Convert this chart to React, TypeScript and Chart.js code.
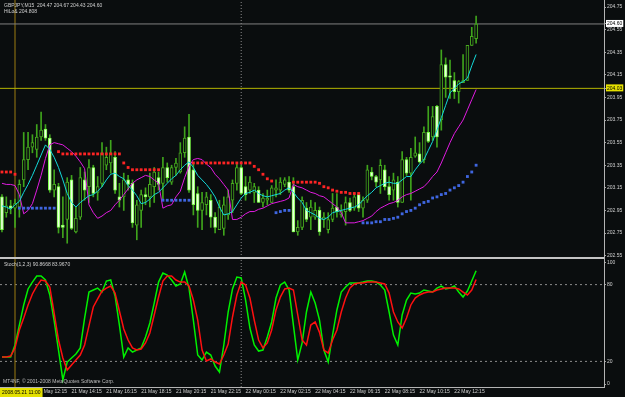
import React, { useEffect, useRef } from 'react';
import { Chart, registerables } from 'chart.js';
Chart.register(...registerables);

const BG = '#0a0d0e';
const TXT = '#d0d0d0';
const AXIS = '#b4b4b4';
const FONT = '"Liberation Sans", Arial, sans-serif';

// ---- GBPJPY M15 candles, bar 0 = 21 May 10:15 ----
const opens = [203.07,202.93,202.99,202.97,202.98,203.22,203.40,203.51,203.49,203.60,
203.67,203.59,203.13,203.16,202.82,202.87,203.22,202.76,202.89,203.22,
203.16,203.33,203.11,203.19,203.35,203.37,203.42,203.07,203.07,203.22,
203.19,202.82,202.95,203.09,203.07,203.16,203.24,203.19,203.33,203.20,
203.33,203.29,203.46,203.60,203.31,203.10,202.95,203.00,203.04,202.89,
202.78,202.79,202.91,203.04,203.19,203.33,203.16,203.13,203.11,203.13,
203.02,203.04,203.02,203.13,203.13,203.18,203.20,203.16,202.76,202.80,
202.97,202.89,202.89,202.95,202.87,202.78,202.87,202.98,202.91,202.94,
203.02,202.97,203.09,202.97,203.04,203.29,203.25,203.22,203.31,203.16,
203.13,203.20,203.02,203.40,203.28,203.43,203.45,203.40,203.64,203.60,
203.87,203.75,204.24,204.14,204.10,204.00,204.08,204.10,204.41,204.47];
const highs = [203.09,203.07,203.04,203.05,203.22,203.64,203.64,203.62,203.71,203.82,
203.71,203.62,203.31,203.19,203.07,203.24,203.26,202.98,203.33,203.29,
203.40,203.35,203.25,203.55,203.51,203.57,203.47,203.19,203.28,203.26,
203.22,203.04,203.13,203.15,203.28,203.33,203.29,203.42,203.37,203.35,
203.41,203.55,203.69,203.80,203.37,203.16,203.11,203.11,203.09,202.93,
203.04,203.07,203.13,203.22,203.37,203.35,203.25,203.25,203.19,203.16,
203.10,203.13,203.17,203.22,203.24,203.24,203.25,203.24,202.86,203.07,
203.02,203.04,203.02,202.98,202.93,202.93,203.10,203.10,203.00,203.07,
203.06,203.10,203.11,203.07,203.35,203.33,203.26,203.40,203.35,203.25,
203.28,203.25,203.47,203.42,203.50,203.60,203.55,203.69,203.87,203.87,
203.88,204.37,204.30,204.28,204.17,204.10,204.33,204.41,204.57,204.67];
const lows = [202.76,202.89,202.92,202.80,202.89,203.16,203.31,203.46,203.42,203.57,
203.57,203.11,203.07,202.75,202.71,202.66,202.78,202.75,202.87,203.04,
203.02,203.07,203.04,203.16,203.31,203.28,203.10,202.98,202.95,203.13,
202.80,202.69,202.80,203.00,202.98,203.02,203.13,203.04,203.20,203.18,
203.26,203.28,203.42,203.11,202.91,202.80,202.78,202.91,202.80,202.75,
202.78,202.73,202.87,202.93,203.13,203.09,203.04,203.10,203.02,203.02,
202.98,203.00,203.02,203.07,203.09,203.16,203.11,202.76,202.73,202.78,
202.85,202.78,202.87,202.73,202.80,202.75,202.85,202.89,202.89,202.82,
202.94,202.95,202.94,202.89,203.02,203.22,203.16,203.10,203.13,203.04,
203.04,202.98,203.02,203.26,203.04,203.42,203.37,203.37,203.55,203.57,
203.51,203.66,203.95,203.94,203.94,203.90,204.08,204.10,204.41,204.43];
const closes = [202.78,202.99,202.97,203.01,203.18,203.40,203.51,203.55,203.60,203.66,
203.59,203.13,203.18,202.80,202.80,203.20,202.79,202.88,203.24,203.13,
203.33,203.10,203.16,203.46,203.42,203.46,203.13,203.04,203.22,203.18,
202.84,203.00,203.09,203.07,203.18,203.29,203.18,203.33,203.24,203.33,
203.37,203.46,203.59,203.13,203.00,202.95,203.02,203.07,202.89,202.80,
202.98,203.00,203.07,203.19,203.33,203.10,203.09,203.20,203.16,203.02,
203.06,203.06,203.15,203.15,203.20,203.22,203.13,202.76,202.80,203.04,
202.87,202.98,202.95,202.76,202.89,202.87,202.97,202.94,202.94,203.02,
202.95,203.07,202.97,203.04,203.31,203.25,203.20,203.35,203.16,203.09,
203.22,203.02,203.40,203.28,203.42,203.46,203.38,203.64,203.56,203.78,
203.60,204.24,204.13,204.13,204.00,204.09,204.10,204.41,204.49,204.60];

// ---- indicators ----
const fastMA = [202.99,202.98,202.96,203.00,203.03,203.11,203.18,203.26,203.35,203.44,
203.53,203.49,203.42,203.33,203.22,203.10,203.02,202.98,203.02,203.05,
203.08,203.09,203.12,203.16,203.22,203.27,203.28,203.25,203.23,203.17,
203.13,203.08,203.01,203.02,203.05,203.09,203.11,203.15,203.19,203.23,
203.26,203.31,203.35,203.38,203.33,203.26,203.22,203.18,203.13,203.07,
202.98,202.91,202.92,202.94,203.00,203.06,203.10,203.11,203.13,203.10,
203.08,203.07,203.08,203.09,203.10,203.13,203.15,203.11,203.06,203.02,
202.95,202.93,202.91,202.88,202.87,202.89,202.93,202.94,202.95,202.96,
202.97,202.98,203.00,203.04,203.08,203.11,203.15,203.17,203.19,203.20,
203.19,203.19,203.22,203.25,203.25,203.31,203.36,203.40,203.48,203.56,
203.66,203.77,203.88,203.99,204.03,204.07,204.09,204.12,204.23,204.33];
const slowMA = [203.19,203.18,203.18,203.17,203.09,202.92,202.95,203.01,203.13,203.26,
203.41,203.53,203.55,203.54,203.53,203.50,203.47,203.43,203.38,203.32,
203.00,202.93,202.88,202.90,202.93,202.95,203.00,203.04,203.09,203.14,
203.19,203.22,203.24,203.26,203.25,203.22,203.19,202.97,202.99,203.00,
203.07,203.12,203.24,203.34,203.40,203.41,203.40,203.36,203.33,203.27,
203.23,203.18,203.13,202.87,202.87,202.89,202.92,202.94,202.94,202.96,
202.97,202.99,203.01,203.02,203.03,203.04,203.06,203.18,203.16,203.15,
203.13,203.11,203.10,203.08,203.07,203.04,203.01,202.98,202.93,202.84,
202.84,202.84,202.85,202.86,202.88,202.90,202.94,202.97,202.99,203.01,
203.02,203.04,203.07,203.09,203.10,203.12,203.14,203.16,203.20,203.25,
203.29,203.37,203.46,203.55,203.63,203.69,203.75,203.84,203.93,204.02];
const hiloUpper = [203.29,203.29,203.29,203.27,null,null,null,null,null,null,
null,null,null,203.47,203.45,203.45,203.45,203.45,203.45,203.45,
203.45,203.45,203.45,203.45,203.45,203.45,203.45,203.45,203.37,203.33,
203.31,203.31,203.31,203.31,203.31,203.31,203.31,null,null,null,
null,null,null,null,203.37,203.37,203.37,203.37,203.37,203.37,
203.37,203.37,203.37,203.37,203.37,203.37,203.37,203.37,203.34,203.31,
203.27,203.23,203.21,null,null,null,null,203.20,203.20,203.20,
203.20,203.20,203.20,203.19,203.16,203.15,203.13,203.12,203.11,203.11,
203.10,203.10,203.10,null,null,null,null,null,null,null,
null,null,null,null,null,null,null,null,null,null,
null,null,null,null,null,null,null,null,null,null];
const hiloLower = [null,null,null,null,202.97,202.97,202.97,202.97,202.97,202.97,
202.97,202.97,202.97,null,null,null,null,null,null,null,
null,null,null,null,null,null,null,null,null,null,
null,null,null,null,null,null,null,203.04,203.04,203.04,
203.04,203.04,203.04,203.04,null,null,null,null,null,null,
null,null,null,null,null,null,null,null,null,null,
null,null,null,202.93,202.94,202.95,202.95,null,null,null,
null,null,null,null,null,null,null,null,null,null,
null,null,null,202.84,202.84,202.84,202.85,202.85,202.87,202.87,
202.88,202.89,202.92,202.94,202.95,202.97,203.00,203.02,203.03,203.06,
203.07,203.09,203.10,203.13,203.15,203.17,203.20,203.25,203.29,203.35];
const stochK = [23.4,23.4,23.4,32.8,48.4,64.1,76.6,82.0,86.7,86.7,
83.6,71.9,51.6,28.9,5.5,19.5,22.7,25.8,30.5,53.9,
74.2,75.8,77.3,74.2,82.8,83.6,71.1,48.4,23.4,30.5,
27.3,28.9,30.5,39.1,50.0,65.6,82.0,89.1,87.5,83.6,
78.9,80.5,89.8,77.3,52.3,25.0,21.1,27.3,25.0,16.4,
11.7,32.8,58.6,76.6,85.9,85.2,68.0,46.1,32.8,28.1,
28.9,39.1,50.8,69.5,79.7,82.0,75.8,48.4,21.1,34.4,
58.6,74.2,65.6,52.3,28.9,19.5,40.6,60.2,74.2,78.1,
81.3,81.3,81.3,82.0,82.8,82.8,82.0,79.7,75.8,58.6,
40.6,32.8,56.3,68.0,73.4,72.7,73.4,75.8,75.0,74.2,
77.3,78.9,76.6,77.3,78.9,74.2,70.3,75.0,82.8,90.87];
const stochD = [23.4,23.4,24.2,30.5,44.5,53.9,64.1,72.7,78.9,83.6,
82.8,78.1,57.8,36.7,22.7,13.3,17.2,21.1,25.0,32.8,
47.7,62.5,68.8,75.0,77.3,78.9,73.4,59.4,45.3,36.7,
30.5,28.9,29.7,34.4,42.2,56.3,70.3,82.8,86.7,86.7,
83.6,82.0,82.0,78.9,68.0,52.3,28.9,20.3,21.9,19.5,
18.0,25.0,33.6,54.7,71.9,82.0,79.7,69.5,52.3,36.7,
30.5,34.4,44.5,60.2,70.3,76.6,77.3,75.8,56.3,36.7,
32.8,48.4,50.8,42.7,28.9,26.6,36.7,44.5,58.6,69.5,
77.3,80.5,81.3,81.3,82.0,82.0,82.0,81.3,80.5,73.4,
58.6,50.8,46.1,53.9,64.1,69.5,71.9,73.4,74.2,74.2,
75.8,76.6,77.3,77.3,77.3,76.6,74.2,71.9,75.8,83.97];

// ---- axes / labels ----
const timeTickBars = [8,16,24,32,40,48,56,64,72,80,88,96,104];
const timeTickLabels = ['21 May 12:15','21 May 14:15','21 May 16:15','21 May 18:15','21 May 20:15','21 May 22:15',
  '22 May 00:15','22 May 02:15','22 May 04:15','22 May 06:15','22 May 08:15','22 May 10:15','22 May 12:15'];
const priceTicks = [204.75,204.60,204.55,204.35,204.15,204.03,203.95,203.75,203.55,203.35,203.15,202.95,202.75,202.55];
const bidPrice = 204.60;
const hLinePrice = 204.03;
const stochTickPos = [96.9, 80, 20, 2.3];
const stochTickLabels = ['100', '80', '20', '0'];
const stochLevels = [80, 20];
const crossBar = 3;
const crossLabel = '2008.05.21 11:00';
const daySeparatorBar = 55;
const titleMain = 'GBPJPY,M15  204.47 204.67 204.43 204.60';
const titleHiLo = 'HiLo& 204.808';
const titleStoch = 'Stoch(1,2,3) 90.8668 83.9670';
const copyright = 'MT4NF, \u00A9 2001-2008 MetaQuotes Software Corp.';

const XMIN = -0.45, XMAX = 138.4;
const YMIN = 202.529, YMAX = 204.812;
const SMIN = 0, SMAX = 100.8;

export default function App() {
  const ref = useRef<HTMLCanvasElement>(null);
  useEffect(() => {
    document.body.style.margin = '0';
    document.body.style.background = BG;
    const pts = (arr: (number | null)[]) => arr.map((v, i) => ({ x: i, y: v }));
    const isBull = (i: number) => closes[i] >= opens[i];
    const isBox = (v: number) => Math.abs(v - bidPrice) < 1e-6 || Math.abs(v - hLinePrice) < 1e-6;

    const overlay = {
      id: 'overlay',
      afterDraw(chart: any) {
        const c = chart.ctx;
        c.save();
        c.fillStyle = '#c4c4c4';
        c.fillRect(0, 257, 604, 2);
        c.font = `5px ${FONT}`;
        c.textBaseline = 'top';
        c.fillStyle = TXT;
        c.fillText(titleMain, 4, 3);
        c.fillText(titleHiLo, 4, 9);
        c.fillText(titleStoch, 4, 262);
        c.fillStyle = '#bdbdbd';
        c.fillText(copyright, 3, 379);
        const x = chart.scales.x.getPixelForValue(crossBar);
        const w = c.measureText(crossLabel).width + 4;
        const left = Math.max(0, x - w / 2);
        c.fillStyle = '#e4e000';
        c.fillRect(left, 388, w, 9);
        c.fillStyle = '#000';
        c.fillText(crossLabel, left + 2, 390);
        c.restore();
      },
    };

    const yAxisCommon = {
      type: 'linear',
      position: 'right',
      stack: 'panes',
      offset: false,
      grid: { display: true, drawOnChartArea: false, drawTicks: true, tickLength: 2, tickColor: '#a0a0a0', color: '#a0a0a0' },
      border: { display: true, color: AXIS, width: 1 },
      afterFit: (s: any) => { s.width = 21; s.paddingTop = 0; s.paddingBottom = 0; },
    };

    const chart = new Chart(ref.current as HTMLCanvasElement, {
      type: 'bar',
      data: {
        datasets: [
          { type: 'line', data: [{ x: XMIN, y: hLinePrice }, { x: XMAX, y: hLinePrice }], yAxisID: 'y', borderColor: '#b4b400', borderWidth: 1, pointRadius: 0, order: 20 },
          { type: 'line', data: [{ x: XMIN, y: bidPrice }, { x: XMAX, y: bidPrice }], yAxisID: 'y', borderColor: '#808080', borderWidth: 1, pointRadius: 0, order: 20 },
          { type: 'line', data: [{ x: crossBar, y: YMIN }, { x: crossBar, y: YMAX }], yAxisID: 'y', borderColor: '#9c7c10', borderWidth: 1, pointRadius: 0, order: 20 },
          { type: 'line', data: [{ x: crossBar, y: SMIN }, { x: crossBar, y: SMAX }], yAxisID: 'y2', borderColor: '#9c7c10', borderWidth: 1, pointRadius: 0, order: 20 },
          { type: 'line', data: [{ x: daySeparatorBar, y: YMIN }, { x: daySeparatorBar, y: YMAX }], yAxisID: 'y', borderColor: '#8a8a8a', borderWidth: 1, borderDash: [1, 2], pointRadius: 0, order: 20 },
          { type: 'line', data: [{ x: daySeparatorBar, y: SMIN }, { x: daySeparatorBar, y: SMAX }], yAxisID: 'y2', borderColor: '#8a8a8a', borderWidth: 1, borderDash: [1, 2], pointRadius: 0, order: 20 },
          ...stochLevels.map((lv) => ({ type: 'line', data: [{ x: XMIN, y: lv }, { x: XMAX, y: lv }], yAxisID: 'y2', borderColor: '#8c8c8c', borderWidth: 1, borderDash: [2, 3], pointRadius: 0, order: 20 })),
          { type: 'bar', data: opens.map((_, i) => ({ x: i, y: [lows[i], highs[i]] })), yAxisID: 'y', backgroundColor: '#3fa41c', barThickness: 1, grouped: false, order: 10 },
          { type: 'bar', data: opens.map((_, i) => ({ x: i, y: [opens[i], closes[i]] })), yAxisID: 'y',
            backgroundColor: (ctx: any) => (isBull(ctx.dataIndex) ? BG : '#ecffe2'),
            borderColor: (ctx: any) => (isBull(ctx.dataIndex) ? '#46a81e' : '#7cff48'),
            borderWidth: 1, borderSkipped: false, barThickness: 3, minBarLength: 1, grouped: false, order: 9 },
          { type: 'line', data: pts(slowMA), yAxisID: 'y', borderColor: '#e21ce2', borderWidth: 1, pointRadius: 0, order: 5 },
          { type: 'line', data: pts(fastMA), yAxisID: 'y', borderColor: '#14dada', borderWidth: 1, pointRadius: 0, order: 4 },
          { type: 'line', data: pts(hiloUpper), yAxisID: 'y', showLine: false, pointStyle: 'rect', pointRadius: 2, pointBorderWidth: 0, pointBackgroundColor: '#ff2424', order: 3 },
          { type: 'line', data: pts(hiloLower), yAxisID: 'y', showLine: false, pointStyle: 'rect', pointRadius: 2, pointBorderWidth: 0, pointBackgroundColor: '#3f66e0', order: 3 },
          { type: 'line', data: pts(stochK), yAxisID: 'y2', borderColor: '#00f000', borderWidth: 1.5, pointRadius: 0, order: 2 },
          { type: 'line', data: pts(stochD), yAxisID: 'y2', borderColor: '#ff1010', borderWidth: 1.5, pointRadius: 0, order: 1 },
        ] as any,
      },
      options: {
        responsive: false,
        animation: false,
        devicePixelRatio: 1,
        events: [],
        layout: { padding: 0, autoPadding: false },
        plugins: { legend: { display: false }, tooltip: { enabled: false } },
        scales: {
          x: {
            type: 'linear', position: 'bottom', min: XMIN, max: XMAX, offset: false,
            grid: { display: true, drawOnChartArea: false, drawTicks: false, offset: false },
            border: { display: true, color: AXIS, width: 1 },
            ticks: {
              autoSkip: false, maxRotation: 0, minRotation: 0, align: 'start', padding: 2,
              color: TXT, font: { family: FONT, size: 5 },
              callback: (v: any) => timeTickLabels[timeTickBars.indexOf(Number(v))] ?? '',
            },
            afterBuildTicks: (s: any) => { s.ticks = timeTickBars.map((v) => ({ value: v })); },
            afterFit: (s: any) => { s.height = 10; s.paddingLeft = 0; s.paddingRight = 0; },
          },
          y: {
            ...yAxisCommon, stackWeight: 258, min: YMIN, max: YMAX,
            ticks: {
              autoSkip: false, padding: 1, font: { family: FONT, size: 5 },
              color: (ctx: any) => (isBox(ctx.tick.value) ? '#000' : TXT),
              showLabelBackdrop: (ctx: any) => isBox(ctx.tick.value),
              backdropColor: (ctx: any) => (Math.abs(ctx.tick.value - bidPrice) < 1e-6 ? '#ffffff' : '#e4e000'),
              backdropPadding: { top: 1, bottom: 0, left: 1, right: 1 },
              callback: (v: any) => Number(v).toFixed(2),
            },
            afterBuildTicks: (s: any) => { s.ticks = priceTicks.map((v) => ({ value: v })); },
          },
          y2: {
            ...yAxisCommon, stackWeight: 129, min: SMIN, max: SMAX,
            ticks: {
              autoSkip: false, padding: 1, font: { family: FONT, size: 5 }, color: TXT,
              callback: (v: any) => stochTickLabels[stochTickPos.indexOf(Number(v))] ?? '',
            },
            afterBuildTicks: (s: any) => { s.ticks = stochTickPos.map((v) => ({ value: v })); },
          },
        },
      } as any,
      plugins: [overlay],
    });
    return () => chart.destroy();
  }, []);

  return (
    <div style={{ width: 625, height: 397, background: BG }}>
      <canvas ref={ref} width={625} height={397} style={{ display: 'block', width: 625, height: 397 }} />
    </div>
  );
}
